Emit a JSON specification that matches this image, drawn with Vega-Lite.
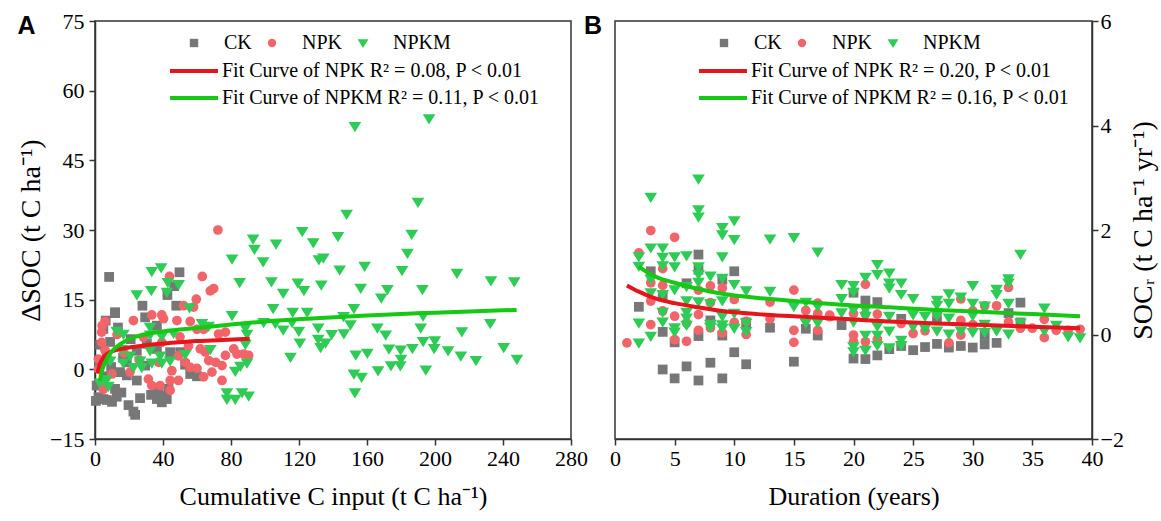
{
  "$schema": "https://vega.github.io/schema/vega-lite/v6.json",
  "padding": {"left": 16, "top": 9, "right": 2, "bottom": 5},
  "background": "white",
  "config": {
    "font": "Liberation Serif",
    "view": {"stroke": "#333", "strokeWidth": 1.5},
    "axis": {"domainColor": "#333", "domainWidth": 1.5, "tickColor": "#333", "tickWidth": 1.5, "tickSize": 6, "labelFont": "Liberation Serif", "labelFontSize": 22, "labelColor": "#000", "titleFont": "Liberation Serif", "titleFontWeight": "normal", "titleColor": "#000", "grid": false, "labelPadding": 3, "labelFlush": false, "labelOverlap": false},
    "axisY": {"titlePadding": 5, "titleFontSize": 28},
    "axisX": {"titlePadding": 14, "titleFontSize": 26},
    "legend": {"labelFont": "Liberation Serif", "labelFontSize": 20, "labelColor": "#000", "padding": 0, "labelLimit": 0}
  },
  "datasets": {
    "a_pts": [
      {"x":8.3,"y":19.9,"g":"CK"},{"x":49.7,"y":20.9,"g":"CK"},{"x":46.6,"y":17.9,"g":"CK"},{"x":42.6,"y":16.0,"g":"CK"},{"x":27.9,"y":13.7,"g":"CK"},{"x":47.8,"y":13.7,"g":"CK"},{"x":11.8,"y":12.1,"g":"CK"},{"x":6.3,"y":10.5,"g":"CK"},{"x":29.5,"y":11.2,"g":"CK"},{"x":4.9,"y":8.7,"g":"CK"},{"x":36.4,"y":9.4,"g":"CK"},{"x":24.6,"y":4.0,"g":"CK"},{"x":36.4,"y":4.4,"g":"CK"},{"x":44.2,"y":3.7,"g":"CK"},{"x":50.1,"y":3.7,"g":"CK"},{"x":18.7,"y":1.5,"g":"CK"},{"x":29.5,"y":0.8,"g":"CK"},{"x":56.0,"y":-1.0,"g":"CK"},{"x":18.7,"y":-1.3,"g":"CK"},{"x":24.6,"y":-2.4,"g":"CK"},{"x":1.0,"y":-3.5,"g":"CK"},{"x":11.8,"y":-4.2,"g":"CK"},{"x":0.5,"y":-6.8,"g":"CK"},{"x":4.9,"y":-6.4,"g":"CK"},{"x":10.0,"y":-7.0,"g":"CK"},{"x":12.8,"y":-5.9,"g":"CK"},{"x":19.7,"y":-7.7,"g":"CK"},{"x":22.6,"y":-9.1,"g":"CK"},{"x":23.6,"y":-9.8,"g":"CK"},{"x":26.5,"y":-6.2,"g":"CK"},{"x":36.4,"y":-6.4,"g":"CK"},{"x":39.3,"y":-7.1,"g":"CK"},{"x":42.2,"y":-6.4,"g":"CK"},{"x":37.4,"y":-4.6,"g":"CK"},{"x":43.2,"y":-4.2,"g":"CK"},{"x":14.7,"y":-0.6,"g":"CK"},{"x":6.9,"y":3.0,"g":"CK"},{"x":8.9,"y":5.9,"g":"CK"},{"x":11.8,"y":12.3,"g":"CK"},{"x":3.0,"y":5.3,"g":"CK"},{"x":2.0,"y":-6.0,"g":"CK"},{"x":7.0,"y":-6.6,"g":"CK"},{"x":15.5,"y":-5.0,"g":"CK"},{"x":33.0,"y":-5.5,"g":"CK"},{"x":40.5,"y":-5.8,"g":"CK"},{"x":16.5,"y":2.5,"g":"CK"},{"x":21.0,"y":6.5,"g":"CK"},{"x":13.5,"y":9.0,"g":"CK"},{"x":2.5,"y":1.0,"g":"CK"},{"x":5.5,"y":-1.5,"g":"CK"},{"x":9.5,"y":0.5,"g":"CK"},{"x":30.5,"y":5.5,"g":"CK"},{"x":53.0,"y":1.0,"g":"CK"},{"x":60.0,"y":-1.5,"g":"CK"},
      {"x":72.3,"y":30.0,"g":"NPK"},{"x":43.8,"y":20.0,"g":"NPK"},{"x":63.1,"y":20.0,"g":"NPK"},{"x":69.8,"y":17.4,"g":"NPK"},{"x":67.8,"y":16.9,"g":"NPK"},{"x":59.6,"y":15.1,"g":"NPK"},{"x":52.1,"y":13.7,"g":"NPK"},{"x":58.0,"y":13.4,"g":"NPK"},{"x":39.3,"y":11.7,"g":"NPK"},{"x":33.4,"y":11.7,"g":"NPK"},{"x":22.6,"y":10.5,"g":"NPK"},{"x":5.9,"y":10.3,"g":"NPK"},{"x":40.3,"y":10.9,"g":"NPK"},{"x":48.2,"y":10.5,"g":"NPK"},{"x":56.0,"y":10.3,"g":"NPK"},{"x":60.0,"y":8.6,"g":"NPK"},{"x":63.9,"y":8.6,"g":"NPK"},{"x":76.7,"y":8.0,"g":"NPK"},{"x":72.7,"y":7.6,"g":"NPK"},{"x":3.9,"y":5.8,"g":"NPK"},{"x":28.5,"y":6.9,"g":"NPK"},{"x":61.9,"y":4.4,"g":"NPK"},{"x":64.9,"y":3.7,"g":"NPK"},{"x":66.9,"y":1.9,"g":"NPK"},{"x":71.0,"y":1.5,"g":"NPK"},{"x":74.7,"y":0.8,"g":"NPK"},{"x":83.5,"y":3.3,"g":"NPK"},{"x":87.5,"y":3.3,"g":"NPK"},{"x":90.4,"y":3.0,"g":"NPK"},{"x":81.6,"y":4.4,"g":"NPK"},{"x":76.7,"y":3.0,"g":"NPK"},{"x":45.2,"y":-0.3,"g":"NPK"},{"x":31.4,"y":-2.1,"g":"NPK"},{"x":33.4,"y":-3.5,"g":"NPK"},{"x":38.3,"y":-3.5,"g":"NPK"},{"x":44.2,"y":-2.4,"g":"NPK"},{"x":49.1,"y":-2.4,"g":"NPK"},{"x":44.2,"y":-4.5,"g":"NPK"},{"x":56.0,"y":0.4,"g":"NPK"},{"x":60.0,"y":0.2,"g":"NPK"},{"x":63.9,"y":-1.6,"g":"NPK"},{"x":68.8,"y":-0.6,"g":"NPK"},{"x":74.7,"y":-2.4,"g":"NPK"},{"x":49.1,"y":2.9,"g":"NPK"},{"x":53.1,"y":1.5,"g":"NPK"},{"x":4.9,"y":-4.3,"g":"NPK"},{"x":5.9,"y":4.1,"g":"NPK"},{"x":2.0,"y":0.0,"g":"NPK"},{"x":20.6,"y":-0.6,"g":"NPK"},{"x":37.4,"y":1.5,"g":"NPK"},{"x":39.3,"y":5.8,"g":"NPK"},{"x":4.2,"y":9.4,"g":"NPK"},{"x":3.9,"y":8.0,"g":"NPK"},{"x":2.0,"y":2.2,"g":"NPK"},{"x":3.9,"y":-2.9,"g":"NPK"},{"x":13.0,"y":7.5,"g":"NPK"},{"x":17.0,"y":3.5,"g":"NPK"},{"x":26.0,"y":2.0,"g":"NPK"},{"x":10.0,"y":-1.0,"g":"NPK"},{"x":50.0,"y":7.0,"g":"NPK"},{"x":55.0,"y":5.0,"g":"NPK"},
      {"x":93.0,"y":28.1,"g":"NPKM"},{"x":93.8,"y":25.9,"g":"NPKM"},{"x":80.6,"y":23.8,"g":"NPKM"},{"x":98.9,"y":23.2,"g":"NPKM"},{"x":85.1,"y":18.7,"g":"NPKM"},{"x":38.9,"y":21.9,"g":"NPKM"},{"x":33.4,"y":21.1,"g":"NPKM"},{"x":42.9,"y":18.7,"g":"NPKM"},{"x":49.2,"y":18.3,"g":"NPKM"},{"x":33.1,"y":17.0,"g":"NPKM"},{"x":24.6,"y":16.1,"g":"NPKM"},{"x":42.3,"y":16.6,"g":"NPKM"},{"x":55.6,"y":13.3,"g":"NPKM"},{"x":80.6,"y":11.6,"g":"NPKM"},{"x":88.5,"y":8.9,"g":"NPKM"},{"x":89.4,"y":7.6,"g":"NPKM"},{"x":32.4,"y":9.1,"g":"NPKM"},{"x":12.8,"y":8.2,"g":"NPKM"},{"x":16.7,"y":7.6,"g":"NPKM"},{"x":32.4,"y":7.4,"g":"NPKM"},{"x":39.3,"y":7.1,"g":"NPKM"},{"x":46.2,"y":7.8,"g":"NPKM"},{"x":62.9,"y":9.9,"g":"NPKM"},{"x":66.8,"y":9.3,"g":"NPKM"},{"x":88.5,"y":5.4,"g":"NPKM"},{"x":67.8,"y":4.3,"g":"NPKM"},{"x":15.7,"y":4.3,"g":"NPKM"},{"x":20.6,"y":2.9,"g":"NPKM"},{"x":32.4,"y":4.0,"g":"NPKM"},{"x":38.3,"y":2.9,"g":"NPKM"},{"x":53.1,"y":3.2,"g":"NPKM"},{"x":8.9,"y":1.8,"g":"NPKM"},{"x":16.7,"y":1.4,"g":"NPKM"},{"x":33.4,"y":1.4,"g":"NPKM"},{"x":39.3,"y":1.4,"g":"NPKM"},{"x":44.2,"y":1.8,"g":"NPKM"},{"x":26.5,"y":1.8,"g":"NPKM"},{"x":27.5,"y":0.4,"g":"NPKM"},{"x":22.6,"y":0.4,"g":"NPKM"},{"x":89.4,"y":1.4,"g":"NPKM"},{"x":85.5,"y":0.7,"g":"NPKM"},{"x":82.5,"y":-0.4,"g":"NPKM"},{"x":7.9,"y":-3.6,"g":"NPKM"},{"x":77.6,"y":-5.0,"g":"NPKM"},{"x":77.6,"y":-6.4,"g":"NPKM"},{"x":82.5,"y":-6.4,"g":"NPKM"},{"x":86.5,"y":-5.0,"g":"NPKM"},{"x":90.4,"y":-5.7,"g":"NPKM"},{"x":2.9,"y":-2.9,"g":"NPKM"},{"x":6.9,"y":-2.2,"g":"NPKM"},
      {"x":152.9,"y":52.3,"g":"NPKM"},{"x":196.5,"y":54.0,"g":"NPKM"},{"x":190.0,"y":36.0,"g":"NPKM"},{"x":148.0,"y":33.4,"g":"NPKM"},{"x":121.9,"y":29.7,"g":"NPKM"},{"x":142.9,"y":28.6,"g":"NPKM"},{"x":186.3,"y":29.1,"g":"NPKM"},{"x":106.5,"y":27.0,"g":"NPKM"},{"x":128.4,"y":27.3,"g":"NPKM"},{"x":183.8,"y":25.0,"g":"NPKM"},{"x":131.7,"y":23.6,"g":"NPKM"},{"x":134.3,"y":24.0,"g":"NPKM"},{"x":143.9,"y":21.4,"g":"NPKM"},{"x":158.6,"y":22.2,"g":"NPKM"},{"x":180.6,"y":21.3,"g":"NPKM"},{"x":212.9,"y":20.7,"g":"NPKM"},{"x":232.9,"y":19.1,"g":"NPKM"},{"x":246.6,"y":18.9,"g":"NPKM"},{"x":103.8,"y":18.9,"g":"NPKM"},{"x":119.3,"y":18.6,"g":"NPKM"},{"x":122.9,"y":17.0,"g":"NPKM"},{"x":110.7,"y":16.4,"g":"NPKM"},{"x":133.1,"y":18.2,"g":"NPKM"},{"x":156.3,"y":17.5,"g":"NPKM"},{"x":172.0,"y":17.2,"g":"NPKM"},{"x":168.4,"y":15.4,"g":"NPKM"},{"x":192.6,"y":17.2,"g":"NPKM"},{"x":104.8,"y":13.1,"g":"NPKM"},{"x":116.3,"y":12.3,"g":"NPKM"},{"x":124.8,"y":12.3,"g":"NPKM"},{"x":152.3,"y":13.1,"g":"NPKM"},{"x":146.2,"y":11.4,"g":"NPKM"},{"x":193.0,"y":11.5,"g":"NPKM"},{"x":99.2,"y":10.1,"g":"NPKM"},{"x":106.1,"y":9.9,"g":"NPKM"},{"x":115.9,"y":10.1,"g":"NPKM"},{"x":110.7,"y":8.5,"g":"NPKM"},{"x":119.9,"y":8.2,"g":"NPKM"},{"x":131.3,"y":8.9,"g":"NPKM"},{"x":150.3,"y":9.6,"g":"NPKM"},{"x":166.1,"y":8.9,"g":"NPKM"},{"x":191.6,"y":8.9,"g":"NPKM"},{"x":215.8,"y":8.1,"g":"NPKM"},{"x":232.5,"y":9.9,"g":"NPKM"},{"x":139.2,"y":7.5,"g":"NPKM"},{"x":146.4,"y":7.7,"g":"NPKM"},{"x":171.0,"y":7.4,"g":"NPKM"},{"x":131.3,"y":6.5,"g":"NPKM"},{"x":135.6,"y":5.7,"g":"NPKM"},{"x":132.7,"y":4.7,"g":"NPKM"},{"x":120.5,"y":5.7,"g":"NPKM"},{"x":115.0,"y":2.6,"g":"NPKM"},{"x":172.9,"y":4.4,"g":"NPKM"},{"x":179.8,"y":4.2,"g":"NPKM"},{"x":186.7,"y":4.5,"g":"NPKM"},{"x":193.0,"y":6.0,"g":"NPKM"},{"x":199.9,"y":6.2,"g":"NPKM"},{"x":199.5,"y":4.5,"g":"NPKM"},{"x":207.7,"y":4.0,"g":"NPKM"},{"x":160.2,"y":3.5,"g":"NPKM"},{"x":153.4,"y":3.1,"g":"NPKM"},{"x":215.2,"y":2.9,"g":"NPKM"},{"x":224.1,"y":1.9,"g":"NPKM"},{"x":240.4,"y":4.7,"g":"NPKM"},{"x":248.2,"y":2.2,"g":"NPKM"},{"x":174.1,"y":0.8,"g":"NPKM"},{"x":179.6,"y":0.8,"g":"NPKM"},{"x":180.0,"y":2.2,"g":"NPKM"},{"x":166.5,"y":-0.3,"g":"NPKM"},{"x":194.6,"y":-0.1,"g":"NPKM"},{"x":152.3,"y":-1.0,"g":"NPKM"},{"x":156.8,"y":-1.7,"g":"NPKM"},{"x":152.9,"y":-5.0,"g":"NPKM"}
    ],
    "a_fit": [
      {"x":1.5,"y":-0.8,"fit":"Fit Curve of NPK  R² = 0.08, P < 0.01"},{"x":2.5,"y":0.8,"fit":"Fit Curve of NPK  R² = 0.08, P < 0.01"},{"x":4,"y":2.0,"fit":"Fit Curve of NPK  R² = 0.08, P < 0.01"},{"x":6,"y":3.0,"fit":"Fit Curve of NPK  R² = 0.08, P < 0.01"},{"x":9,"y":3.7,"fit":"Fit Curve of NPK  R² = 0.08, P < 0.01"},{"x":13,"y":4.2,"fit":"Fit Curve of NPK  R² = 0.08, P < 0.01"},{"x":20,"y":4.7,"fit":"Fit Curve of NPK  R² = 0.08, P < 0.01"},{"x":30,"y":5.2,"fit":"Fit Curve of NPK  R² = 0.08, P < 0.01"},{"x":45,"y":5.7,"fit":"Fit Curve of NPK  R² = 0.08, P < 0.01"},{"x":60,"y":6.1,"fit":"Fit Curve of NPK  R² = 0.08, P < 0.01"},{"x":75,"y":6.3,"fit":"Fit Curve of NPK  R² = 0.08, P < 0.01"},{"x":91,"y":6.6,"fit":"Fit Curve of NPK  R² = 0.08, P < 0.01"},
      {"x":2.9,"y":-2.5,"fit":"Fit Curve of NPKM  R² = 0.11, P < 0.01"},{"x":4,"y":-0.5,"fit":"Fit Curve of NPKM  R² = 0.11, P < 0.01"},{"x":6,"y":1.5,"fit":"Fit Curve of NPKM  R² = 0.11, P < 0.01"},{"x":8,"y":3.0,"fit":"Fit Curve of NPKM  R² = 0.11, P < 0.01"},{"x":11,"y":4.3,"fit":"Fit Curve of NPKM  R² = 0.11, P < 0.01"},{"x":15,"y":5.5,"fit":"Fit Curve of NPKM  R² = 0.11, P < 0.01"},{"x":22,"y":6.8,"fit":"Fit Curve of NPKM  R² = 0.11, P < 0.01"},{"x":32,"y":7.7,"fit":"Fit Curve of NPKM  R² = 0.11, P < 0.01"},{"x":46,"y":8.4,"fit":"Fit Curve of NPKM  R² = 0.11, P < 0.01"},{"x":60,"y":8.9,"fit":"Fit Curve of NPKM  R² = 0.11, P < 0.01"},{"x":76,"y":9.5,"fit":"Fit Curve of NPKM  R² = 0.11, P < 0.01"},{"x":100,"y":10.3,"fit":"Fit Curve of NPKM  R² = 0.11, P < 0.01"},{"x":130,"y":11.0,"fit":"Fit Curve of NPKM  R² = 0.11, P < 0.01"},{"x":160,"y":11.6,"fit":"Fit Curve of NPKM  R² = 0.11, P < 0.01"},{"x":200,"y":12.2,"fit":"Fit Curve of NPKM  R² = 0.11, P < 0.01"},{"x":248,"y":12.8,"fit":"Fit Curve of NPKM  R² = 0.11, P < 0.01"}
    ],
    "b_pts": [
      {"x":7,"y":1.53,"g":"CK"},{"x":3,"y":1.21,"g":"CK"},{"x":10,"y":1.21,"g":"CK"},{"x":7,"y":1.24,"g":"CK"},{"x":9,"y":1.05,"g":"CK"},{"x":6,"y":0.98,"g":"CK"},{"x":2,"y":0.53,"g":"CK"},{"x":4,"y":0.73,"g":"CK"},{"x":8,"y":0.27,"g":"CK"},{"x":11,"y":0.23,"g":"CK"},{"x":13,"y":0.13,"g":"CK"},{"x":16,"y":0.11,"g":"CK"},{"x":4,"y":0.05,"g":"CK"},{"x":7,"y":-0.03,"g":"CK"},{"x":9,"y":-0.02,"g":"CK"},{"x":17,"y":-0.02,"g":"CK"},{"x":5,"y":-0.15,"g":"CK"},{"x":10,"y":-0.34,"g":"CK"},{"x":8,"y":-0.54,"g":"CK"},{"x":11,"y":-0.57,"g":"CK"},{"x":15,"y":-0.52,"g":"CK"},{"x":4,"y":-0.67,"g":"CK"},{"x":6,"y":-0.61,"g":"CK"},{"x":5,"y":-0.84,"g":"CK"},{"x":7,"y":-0.88,"g":"CK"},{"x":9,"y":-0.84,"g":"CK"},
      {"x":34,"y":0.61,"g":"CK"},{"x":20,"y":0.80,"g":"CK"},{"x":21,"y":0.65,"g":"CK"},{"x":22,"y":0.62,"g":"CK"},{"x":19,"y":0.18,"g":"CK"},{"x":24,"y":0.30,"g":"CK"},{"x":27,"y":0.27,"g":"CK"},{"x":33,"y":0.41,"g":"CK"},{"x":34,"y":0.23,"g":"CK"},{"x":24,"y":-0.22,"g":"CK"},{"x":23,"y":-0.28,"g":"CK"},{"x":25,"y":-0.30,"g":"CK"},{"x":26,"y":-0.24,"g":"CK"},{"x":27,"y":-0.18,"g":"CK"},{"x":28,"y":-0.25,"g":"CK"},{"x":29,"y":-0.22,"g":"CK"},{"x":30,"y":-0.25,"g":"CK"},{"x":31,"y":-0.19,"g":"CK"},{"x":32,"y":-0.16,"g":"CK"},{"x":20,"y":-0.46,"g":"CK"},{"x":21,"y":-0.47,"g":"CK"},{"x":22,"y":-0.40,"g":"CK"},{"x":31,"y":-0.01,"g":"CK"},
      {"x":3,"y":1.99,"g":"NPK"},{"x":5,"y":1.86,"g":"NPK"},{"x":2,"y":1.56,"g":"NPK"},{"x":4,"y":1.26,"g":"NPK"},{"x":3,"y":0.99,"g":"NPK"},{"x":3,"y":0.64,"g":"NPK"},{"x":4,"y":0.94,"g":"NPK"},{"x":9,"y":0.89,"g":"NPK"},{"x":15,"y":0.85,"g":"NPK"},{"x":7,"y":0.85,"g":"NPK"},{"x":8,"y":0.93,"g":"NPK"},{"x":10,"y":0.67,"g":"NPK"},{"x":13,"y":0.62,"g":"NPK"},{"x":8,"y":0.61,"g":"NPK"},{"x":5,"y":0.35,"g":"NPK"},{"x":7,"y":0.38,"g":"NPK"},{"x":4,"y":0.45,"g":"NPK"},{"x":3,"y":0.19,"g":"NPK"},{"x":6,"y":0.22,"g":"NPK"},{"x":10,"y":0.23,"g":"NPK"},{"x":11,"y":0.25,"g":"NPK"},{"x":13,"y":0.30,"g":"NPK"},{"x":16,"y":0.46,"g":"NPK"},{"x":17,"y":0.60,"g":"NPK"},{"x":17,"y":0.40,"g":"NPK"},{"x":18,"y":0.37,"g":"NPK"},{"x":7,"y":0.08,"g":"NPK"},{"x":8,"y":0.13,"g":"NPK"},{"x":9,"y":0.03,"g":"NPK"},{"x":11,"y":0.0,"g":"NPK"},{"x":5,"y":-0.10,"g":"NPK"},{"x":6,"y":-0.13,"g":"NPK"},{"x":15,"y":0.08,"g":"NPK"},{"x":15,"y":-0.15,"g":"NPK"},{"x":17,"y":0.08,"g":"NPK"},{"x":1,"y":-0.16,"g":"NPK"},
      {"x":21,"y":0.96,"g":"NPK"},{"x":33,"y":0.90,"g":"NPK"},{"x":32,"y":0.55,"g":"NPK"},{"x":29,"y":0.68,"g":"NPK"},{"x":20,"y":0.40,"g":"NPK"},{"x":21,"y":0.39,"g":"NPK"},{"x":22,"y":0.39,"g":"NPK"},{"x":18,"y":0.34,"g":"NPK"},{"x":24,"y":0.21,"g":"NPK"},{"x":25,"y":0.02,"g":"NPK"},{"x":26,"y":0.07,"g":"NPK"},{"x":27,"y":0.39,"g":"NPK"},{"x":28,"y":-0.16,"g":"NPK"},{"x":29,"y":0.27,"g":"NPK"},{"x":29,"y":-0.01,"g":"NPK"},{"x":30,"y":0.45,"g":"NPK"},{"x":31,"y":0.55,"g":"NPK"},{"x":30,"y":0.19,"g":"NPK"},{"x":33,"y":0.24,"g":"NPK"},{"x":34,"y":0.12,"g":"NPK"},{"x":35,"y":0.12,"g":"NPK"},{"x":36,"y":0.29,"g":"NPK"},{"x":36,"y":-0.06,"g":"NPK"},{"x":37,"y":0.08,"g":"NPK"},{"x":38,"y":0.08,"g":"NPK"},{"x":39,"y":0.10,"g":"NPK"},{"x":20,"y":-0.01,"g":"NPK"},{"x":20,"y":-0.14,"g":"NPK"},{"x":21,"y":-0.14,"g":"NPK"},{"x":22,"y":-0.09,"g":"NPK"},
      {"x":7,"y":2.98,"g":"NPKM"},{"x":3,"y":2.63,"g":"NPKM"},{"x":7,"y":2.39,"g":"NPKM"},{"x":7,"y":2.25,"g":"NPKM"},{"x":10,"y":2.18,"g":"NPKM"},{"x":9,"y":2.05,"g":"NPKM"},{"x":9,"y":1.91,"g":"NPKM"},{"x":10,"y":1.82,"g":"NPKM"},{"x":13,"y":1.83,"g":"NPKM"},{"x":15,"y":1.86,"g":"NPKM"},{"x":17,"y":1.58,"g":"NPKM"},{"x":3,"y":1.66,"g":"NPKM"},{"x":4,"y":1.66,"g":"NPKM"},{"x":4,"y":1.48,"g":"NPKM"},{"x":4,"y":1.32,"g":"NPKM"},{"x":5,"y":1.49,"g":"NPKM"},{"x":5,"y":1.30,"g":"NPKM"},{"x":6,"y":1.51,"g":"NPKM"},{"x":2,"y":1.49,"g":"NPKM"},{"x":2,"y":1.31,"g":"NPKM"},{"x":9,"y":1.49,"g":"NPKM"},{"x":7,"y":1.30,"g":"NPKM"},{"x":7,"y":1.15,"g":"NPKM"},{"x":7,"y":1.00,"g":"NPKM"},{"x":8,"y":1.12,"g":"NPKM"},{"x":9,"y":1.08,"g":"NPKM"},{"x":3,"y":1.06,"g":"NPKM"},{"x":5,"y":0.86,"g":"NPKM"},{"x":6,"y":0.92,"g":"NPKM"},{"x":10,"y":0.96,"g":"NPKM"},{"x":11,"y":0.84,"g":"NPKM"},{"x":13,"y":0.83,"g":"NPKM"},{"x":3,"y":0.80,"g":"NPKM"},{"x":4,"y":0.77,"g":"NPKM"},{"x":6,"y":0.65,"g":"NPKM"},{"x":7,"y":0.63,"g":"NPKM"},{"x":9,"y":0.65,"g":"NPKM"},{"x":8,"y":0.59,"g":"NPKM"},{"x":15,"y":0.54,"g":"NPKM"},{"x":16,"y":0.62,"g":"NPKM"},{"x":17,"y":0.54,"g":"NPKM"},{"x":4,"y":0.43,"g":"NPKM"},{"x":6,"y":0.43,"g":"NPKM"},{"x":9,"y":0.35,"g":"NPKM"},{"x":10,"y":0.41,"g":"NPKM"},{"x":6,"y":0.32,"g":"NPKM"},{"x":2,"y":0.22,"g":"NPKM"},{"x":4,"y":0.24,"g":"NPKM"},{"x":5,"y":0.13,"g":"NPKM"},{"x":5,"y":0.05,"g":"NPKM"},{"x":6,"y":0.18,"g":"NPKM"},{"x":8,"y":0.20,"g":"NPKM"},{"x":8,"y":0.14,"g":"NPKM"},{"x":9,"y":0.19,"g":"NPKM"},{"x":9,"y":0.12,"g":"NPKM"},{"x":10,"y":0.12,"g":"NPKM"},{"x":11,"y":0.22,"g":"NPKM"},{"x":11,"y":0.06,"g":"NPKM"},{"x":16,"y":0.22,"g":"NPKM"},{"x":17,"y":0.22,"g":"NPKM"},{"x":3,"y":-0.03,"g":"NPKM"},{"x":2,"y":-0.16,"g":"NPKM"},
      {"x":34,"y":1.54,"g":"NPKM"},{"x":22,"y":1.34,"g":"NPKM"},{"x":22,"y":1.15,"g":"NPKM"},{"x":23,"y":1.18,"g":"NPKM"},{"x":23,"y":0.99,"g":"NPKM"},{"x":23,"y":0.89,"g":"NPKM"},{"x":21,"y":1.10,"g":"NPKM"},{"x":24,"y":0.99,"g":"NPKM"},{"x":24,"y":0.77,"g":"NPKM"},{"x":19,"y":0.96,"g":"NPKM"},{"x":20,"y":0.94,"g":"NPKM"},{"x":20,"y":0.81,"g":"NPKM"},{"x":25,"y":0.69,"g":"NPKM"},{"x":30,"y":0.94,"g":"NPKM"},{"x":33,"y":1.07,"g":"NPKM"},{"x":33,"y":0.99,"g":"NPKM"},{"x":32,"y":0.87,"g":"NPKM"},{"x":32,"y":0.77,"g":"NPKM"},{"x":28,"y":0.78,"g":"NPKM"},{"x":28,"y":0.60,"g":"NPKM"},{"x":29,"y":0.72,"g":"NPKM"},{"x":27,"y":0.66,"g":"NPKM"},{"x":27,"y":0.56,"g":"NPKM"},{"x":19,"y":0.69,"g":"NPKM"},{"x":30,"y":0.60,"g":"NPKM"},{"x":30,"y":0.36,"g":"NPKM"},{"x":31,"y":0.55,"g":"NPKM"},{"x":33,"y":0.60,"g":"NPKM"},{"x":36,"y":0.51,"g":"NPKM"},{"x":19,"y":0.42,"g":"NPKM"},{"x":20,"y":0.47,"g":"NPKM"},{"x":21,"y":0.47,"g":"NPKM"},{"x":21,"y":0.35,"g":"NPKM"},{"x":23,"y":0.35,"g":"NPKM"},{"x":25,"y":0.38,"g":"NPKM"},{"x":26,"y":0.35,"g":"NPKM"},{"x":27,"y":0.36,"g":"NPKM"},{"x":28,"y":0.32,"g":"NPKM"},{"x":20,"y":0.24,"g":"NPKM"},{"x":22,"y":0.16,"g":"NPKM"},{"x":23,"y":0.07,"g":"NPKM"},{"x":25,"y":0.15,"g":"NPKM"},{"x":26,"y":0.11,"g":"NPKM"},{"x":27,"y":0.07,"g":"NPKM"},{"x":28,"y":0.01,"g":"NPKM"},{"x":29,"y":0.07,"g":"NPKM"},{"x":30,"y":0.04,"g":"NPKM"},{"x":31,"y":0.20,"g":"NPKM"},{"x":31,"y":0.04,"g":"NPKM"},{"x":32,"y":0.07,"g":"NPKM"},{"x":33,"y":0.01,"g":"NPKM"},{"x":34,"y":0.22,"g":"NPKM"},{"x":36,"y":0.07,"g":"NPKM"},{"x":37,"y":0.18,"g":"NPKM"},{"x":21,"y":-0.01,"g":"NPKM"},{"x":22,"y":-0.01,"g":"NPKM"},{"x":24,"y":-0.11,"g":"NPKM"},{"x":24,"y":-0.21,"g":"NPKM"},{"x":20,"y":-0.23,"g":"NPKM"},{"x":20,"y":-0.33,"g":"NPKM"},{"x":21,"y":-0.30,"g":"NPKM"},{"x":22,"y":-0.21,"g":"NPKM"},{"x":23,"y":-0.25,"g":"NPKM"},{"x":38,"y":-0.04,"g":"NPKM"},{"x":39,"y":-0.06,"g":"NPKM"}
    ],
    "b_fit": [
      {"x":1,"y":0.94,"fit":"Fit Curve of NPK  R² = 0.20, P < 0.01"},{"x":2,"y":0.82,"fit":"Fit Curve of NPK  R² = 0.20, P < 0.01"},{"x":3.5,"y":0.68,"fit":"Fit Curve of NPK  R² = 0.20, P < 0.01"},{"x":5,"y":0.6,"fit":"Fit Curve of NPK  R² = 0.20, P < 0.01"},{"x":7,"y":0.52,"fit":"Fit Curve of NPK  R² = 0.20, P < 0.01"},{"x":9,"y":0.45,"fit":"Fit Curve of NPK  R² = 0.20, P < 0.01"},{"x":12,"y":0.39,"fit":"Fit Curve of NPK  R² = 0.20, P < 0.01"},{"x":15,"y":0.35,"fit":"Fit Curve of NPK  R² = 0.20, P < 0.01"},{"x":19,"y":0.3,"fit":"Fit Curve of NPK  R² = 0.20, P < 0.01"},{"x":23,"y":0.25,"fit":"Fit Curve of NPK  R² = 0.20, P < 0.01"},{"x":27,"y":0.21,"fit":"Fit Curve of NPK  R² = 0.20, P < 0.01"},{"x":31,"y":0.18,"fit":"Fit Curve of NPK  R² = 0.20, P < 0.01"},{"x":35,"y":0.15,"fit":"Fit Curve of NPK  R² = 0.20, P < 0.01"},{"x":39,"y":0.12,"fit":"Fit Curve of NPK  R² = 0.20, P < 0.01"},
      {"x":2,"y":1.3,"fit":"Fit Curve of NPKM  R² = 0.16, P < 0.01"},{"x":3,"y":1.15,"fit":"Fit Curve of NPKM  R² = 0.16, P < 0.01"},{"x":5,"y":0.99,"fit":"Fit Curve of NPKM  R² = 0.16, P < 0.01"},{"x":7,"y":0.87,"fit":"Fit Curve of NPKM  R² = 0.16, P < 0.01"},{"x":9,"y":0.78,"fit":"Fit Curve of NPKM  R² = 0.16, P < 0.01"},{"x":12,"y":0.7,"fit":"Fit Curve of NPKM  R² = 0.16, P < 0.01"},{"x":15,"y":0.64,"fit":"Fit Curve of NPKM  R² = 0.16, P < 0.01"},{"x":19,"y":0.57,"fit":"Fit Curve of NPKM  R² = 0.16, P < 0.01"},{"x":23,"y":0.52,"fit":"Fit Curve of NPKM  R² = 0.16, P < 0.01"},{"x":27,"y":0.47,"fit":"Fit Curve of NPKM  R² = 0.16, P < 0.01"},{"x":31,"y":0.43,"fit":"Fit Curve of NPKM  R² = 0.16, P < 0.01"},{"x":35,"y":0.39,"fit":"Fit Curve of NPKM  R² = 0.16, P < 0.01"},{"x":39,"y":0.35,"fit":"Fit Curve of NPKM  R² = 0.16, P < 0.01"}
    ]
  },
  "spacing": -6,
  "resolve": {"scale": {"fill": "independent", "shape": "independent", "stroke": "independent"}, "legend": {"fill": "independent", "shape": "independent", "stroke": "independent"}},
  "hconcat": [
    {
      "width": 476, "height": 418,
      "title": {"text": "A", "anchor": "start", "frame": "bounds", "font": "Liberation Sans", "fontSize": 25, "fontWeight": "bold", "color": "#000", "baseline": "top", "offset": -12, "dy": 17},
      "layer": [
        {"mark": {"type": "rule", "strokeDash": [2, 4], "color": "#222", "strokeWidth": 1.5}, "encoding": {"y": {"datum": 0, "type": "quantitative"}}},
        {
          "data": {"name": "a_pts"},
          "mark": {"type": "point", "filled": true, "opacity": 1, "size": 95},
          "encoding": {
            "x": {"field": "x", "type": "quantitative", "scale": {"domain": [0, 280], "nice": false}, "axis": {"values": [0, 40, 80, 120, 160, 200, 240, 280], "title": "Cumulative C input (t C ha⁻¹)"}},
            "y": {"field": "y", "type": "quantitative", "scale": {"domain": [-15, 75], "nice": false}, "axis": {"values": [-15, 0, 15, 30, 45, 60, 75], "title": "ΔSOC (t C ha⁻¹)", "titlePadding": 4, "labelPadding": 5}},
            "fill": {"field": "g", "type": "nominal", "scale": {"domain": ["CK", "NPK", "NPKM"], "range": ["#777777", "#f0646a", "#2ecc55"]}, "legend": {"orient": "none", "legendX": 89, "legendY": 12, "direction": "horizontal", "title": null, "symbolSize": 70, "labelOffset": 20, "columnPadding": 10, "gridAlign": "none", "labelFontSize": 20}},
            "shape": {"field": "g", "type": "nominal", "scale": {"domain": ["CK", "NPK", "NPKM"], "range": ["square", "circle", "M-1.3,-0.9L1.3,-0.9L0,1.2Z"]}, "legend": {"orient": "none", "legendX": 89, "legendY": 12, "direction": "horizontal", "title": null, "symbolSize": 70, "labelOffset": 20, "columnPadding": 10, "gridAlign": "none", "labelFontSize": 20}}
          }
        },
        {
          "data": {"name": "a_fit"},
          "mark": {"type": "line", "strokeWidth": 4, "interpolate": "monotone"},
          "encoding": {
            "x": {"field": "x", "type": "quantitative"},
            "y": {"field": "y", "type": "quantitative"},
            "stroke": {"field": "fit", "type": "nominal", "scale": {"domain": ["Fit Curve of NPK  R² = 0.08, P < 0.01", "Fit Curve of NPKM  R² = 0.11, P < 0.01"], "range": ["#e8141c", "#14c814"]}, "legend": {"orient": "none", "legendX": 87, "legendY": 38, "direction": "vertical", "title": null, "symbolType": "M-2.4,0H2.4", "symbolSize": 400, "symbolStrokeWidth": 4, "labelOffset": 16, "rowPadding": 5, "labelFontSize": 20}}
          }
        }
      ]
    },
    {
      "width": 477, "height": 418,
      "title": {"text": "B", "anchor": "start", "frame": "group", "font": "Liberation Sans", "fontSize": 25, "fontWeight": "bold", "color": "#000", "baseline": "top", "offset": -12, "dy": 17, "dx": -31},
      "layer": [
        {"mark": {"type": "rule", "strokeDash": [2, 4], "color": "#222", "strokeWidth": 1.5}, "encoding": {"y": {"datum": 0, "type": "quantitative"}}},
        {
          "data": {"name": "b_pts"},
          "mark": {"type": "point", "filled": true, "opacity": 1, "size": 95},
          "encoding": {
            "x": {"field": "x", "type": "quantitative", "scale": {"domain": [0, 40], "nice": false}, "axis": {"values": [0, 5, 10, 15, 20, 25, 30, 35, 40], "title": "Duration (years)"}},
            "y": {"field": "y", "type": "quantitative", "scale": {"domain": [-2, 6], "nice": false}, "axis": {"orient": "right", "values": [-2, 0, 2, 4, 6], "title": "SOCᵣ (t C ha⁻¹ yr⁻¹)", "titleAngle": 270, "titleBaseline": "top", "titlePadding": 6, "labelPadding": 2}},
            "fill": {"field": "g", "type": "nominal", "scale": {"domain": ["CK", "NPK", "NPKM"], "range": ["#777777", "#f0646a", "#2ecc55"]}, "legend": {"orient": "none", "legendX": 99, "legendY": 12, "direction": "horizontal", "title": null, "symbolSize": 70, "labelOffset": 20, "columnPadding": 10, "gridAlign": "none", "labelFontSize": 20}},
            "shape": {"field": "g", "type": "nominal", "scale": {"domain": ["CK", "NPK", "NPKM"], "range": ["square", "circle", "M-1.3,-0.9L1.3,-0.9L0,1.2Z"]}, "legend": {"orient": "none", "legendX": 99, "legendY": 12, "direction": "horizontal", "title": null, "symbolSize": 70, "labelOffset": 20, "columnPadding": 10, "gridAlign": "none", "labelFontSize": 20}}
          }
        },
        {
          "data": {"name": "b_fit"},
          "mark": {"type": "line", "strokeWidth": 4, "interpolate": "monotone"},
          "encoding": {
            "x": {"field": "x", "type": "quantitative"},
            "y": {"field": "y", "type": "quantitative"},
            "stroke": {"field": "fit", "type": "nominal", "scale": {"domain": ["Fit Curve of NPK  R² = 0.20, P < 0.01", "Fit Curve of NPKM  R² = 0.16, P < 0.01"], "range": ["#e8141c", "#14c814"]}, "legend": {"orient": "none", "legendX": 96, "legendY": 38, "direction": "vertical", "title": null, "symbolType": "M-2.4,0H2.4", "symbolSize": 400, "symbolStrokeWidth": 4, "labelOffset": 16, "rowPadding": 5, "labelFontSize": 20}}
          }
        }
      ]
    }
  ]
}
